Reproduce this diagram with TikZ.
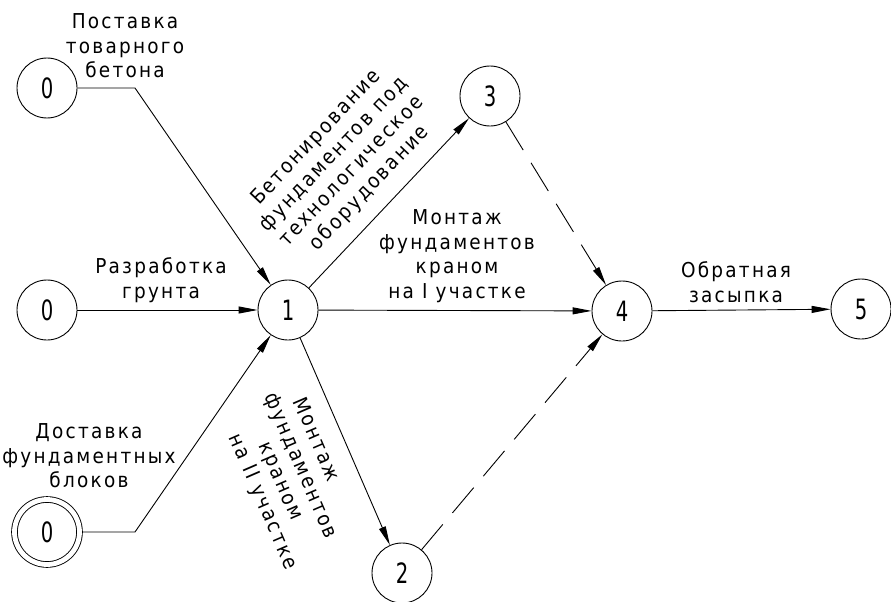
\documentclass[tikz,border=0pt]{standalone}
\usepackage{fontspec}
\setmainfont{DejaVu Sans}
\newfontfamily\lblfamily[FakeStretch=0.9,LetterSpace=11]{DejaVu Sans}
\newfontfamily\digfamily[FakeStretch=0.7]{DejaVu Sans}
\usetikzlibrary{arrows.meta}
\begin{document}
\begin{tikzpicture}[x=1pt,y=-1pt,
  line width=0.9pt,
  evnode/.style={circle,draw,minimum size=60pt,inner sep=0pt,font=\digfamily\fontsize{28}{28}\selectfont},
  lbl/.style={align=center,inner sep=0pt,font=\lblfamily\fontsize{20.5}{24.5}\selectfont},
  arr/.style={-{Triangle[length=19pt,width=7pt]}},
  dsh/.style={arr,dash pattern=on 33pt off 15pt}]
\useasboundingbox (0,0) rectangle (891,602);
% events
\node[evnode] (t0) at (47,88) {0};
\node[evnode] (m0) at (47,310) {0};
\node[evnode,double,double distance=4.8pt,minimum size=65pt,outer sep=3.4pt] (b0) at (47,532) {0};
\node[evnode] (n1) at (288,310) {1};
\node[evnode] (n3) at (490,96) {3};
\node[evnode] (n4) at (622,311) {4};
\node[evnode] (n5) at (861,309) {5};
\node[evnode] (n2) at (402,573) {2};
\coordinate (kt) at (135,88);
\coordinate (kb) at (135,532);
% connectors
\draw[arr] (t0.east) -- (kt) -- (n1);
\draw[arr] (m0) -- (n1);
\draw[arr] (b0.east) -- (kb) -- (n1);
\draw[arr] (n1) -- (n3);
\draw[arr] (n1) -- (n4);
\draw[arr] (n1) -- (n2);
\draw[dsh] (n3) -- (n4);
\draw[dsh] (n2) -- (n4);
\draw[arr] (n4) -- (n5);
% labels
\node[lbl] (l1) at (125,46) {Поставка\\товарного\\бетона};
\node[lbl] (l2) at (161,280) {Разработка\\грунта};
\node[lbl] (l3) at (89,456) {Доставка\\фундаментных\\блоков};
\node[lbl] (l4) at (457,256) {Монтаж\\фундаментов\\краном\\на I участке};
\node[lbl] (l5) at (736,282) {Обратная\\засыпка};
\node[lbl,rotate=46.5] (l6) at (343,163) {Бетонирование\\фундаментов под\\технологическое\\оборудование};
\node[lbl,rotate=-66.6] (l7) at (289,471) {Монтаж\hspace*{36pt}\\фундаментов\hspace*{12pt}\\\hspace*{12pt}краном\\\hspace*{36pt}на II участке};
\end{tikzpicture}
\end{document}
